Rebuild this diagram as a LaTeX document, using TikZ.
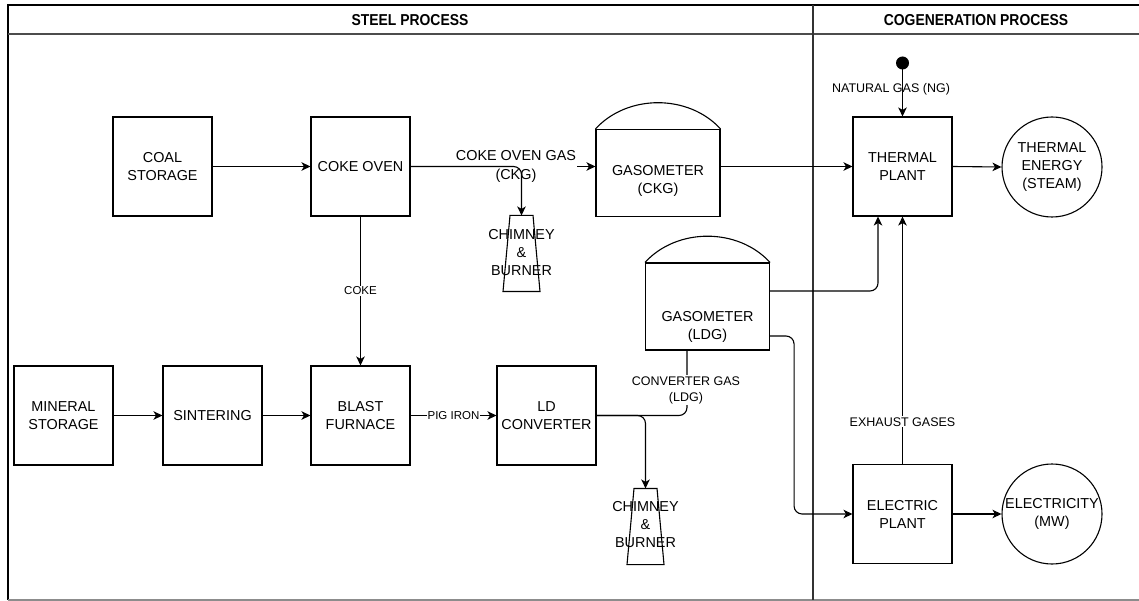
\documentclass[tikz,border=0pt]{standalone}
\usepackage{fontspec}
\setmainfont{Liberation Sans}
\newfontfamily\hdrfont[FakeStretch=0.88]{Liberation Sans}
\usetikzlibrary{arrows.meta}
\tikzset{
  x=1pt,y=-1pt,
  every path/.style={line width=1.1pt},
  box/.style={draw,rectangle,minimum width=99pt,minimum height=99pt,inner sep=0pt,align=center,font=\fontsize{14.4}{18}\selectfont},
  outcirc/.style={draw,circle,minimum size=100pt,inner sep=0pt,align=center,font=\fontsize{14.4}{18}\selectfont},
  gasbox/.style={draw,rectangle,minimum width=124pt,minimum height=87pt,inner sep=0pt},
  chimbox/.style={rectangle,minimum width=37pt,minimum height=75pt,inner sep=0pt},
  btext/.style={align=center,inner sep=0pt,font=\fontsize{14.4}{18}\selectfont},
  elab/.style={align=center,inner sep=1pt,font=\fontsize{12.5}{16}\selectfont},
  slab/.style={align=center,inner sep=1pt,font=\fontsize{11.5}{14}\selectfont},
  arr/.style={-{Stealth[length=9pt,width=8.5pt,inset=2.5pt]}},
  hdr/.style={font=\hdrfont\bfseries\fontsize{15.8}{18}\selectfont},
}
\begin{document}
\begin{tikzpicture}
\useasboundingbox (0,0) rectangle (1139,601);
% frame
\draw[black,line width=1.3pt] (8,600) -- (8,5) -- (1139,5);
\draw[black!70,line width=1.6pt] (8,34) -- (1139,34);
\draw[black!45] (8,600) -- (1139,600);
\draw[black!80] (813,5) -- (813,600);
\node[hdr] (h1) at (410,20) {STEEL PROCESS};
\node[hdr] (h2) at (976,20) {COGENERATION PROCESS};
% boxes
\node[box] (cs) at (162.5,166.5) {COAL\\STORAGE};
\node[box] (co) at (360.5,166.5) {COKE OVEN};
\node[box] (ms) at (63.5,415.5) {MINERAL\\STORAGE};
\node[box] (si) at (212.5,415.5) {SINTERING};
\node[box] (bf) at (360.5,415.5) {BLAST\\FURNACE};
\node[box] (ld) at (546.5,415.5) {LD\\CONVERTER};
\node[box] (tp) at (902.5,166.5) {THERMAL\\PLANT};
\node[box] (ep) at (902.5,514) {ELECTRIC\\PLANT};
\node[outcirc] (te) at (1052,167) {THERMAL\\ENERGY\\(STEAM)};
\node[outcirc] (el) at (1052,514) {ELECTRICITY\\(MW)};
% gasometers
\node[gasbox] (g1) at (658,173) {};
\draw (g1.north west) .. controls +(32,-35) and +(-32,-35) .. (g1.north east);
\node[btext] (g1t) at (658,181) {GASOMETER\\(CKG)};
\node[gasbox] (g2) at (707.5,306.5) {};
\draw (g2.north west) .. controls +(32,-35) and +(-32,-35) .. (g2.north east);
\node[btext] (g2t) at (707.5,326.5) {GASOMETER\\(LDG)};
% chimneys
\node[chimbox] (ch1) at (521.5,253.5) {};
\draw ([xshift=-11.5pt]ch1.north) -- ([xshift=11.5pt]ch1.north) -- ([xshift=18.5pt]ch1.south) -- ([xshift=-18.5pt]ch1.south) -- cycle;
\node[btext] (ch1t) at (521.5,253) {CHIMNEY\\\&\\BURNER};
\node[chimbox] (ch2) at (645.5,526.5) {};
\draw ([xshift=-11.5pt]ch2.north) -- ([xshift=11.5pt]ch2.north) -- ([xshift=18.5pt]ch2.south) -- ([xshift=-18.5pt]ch2.south) -- cycle;
\node[btext] (ch2t) at (645.5,525) {CHIMNEY\\\&\\BURNER};
% natural gas source
\node[circle,fill=black,minimum size=13pt,inner sep=0pt] (ng) at (902.5,63) {};
% connectors
\draw[arr] (cs.east) -- (co.west);
\draw[arr] (co.east) -- node[btext,fill=white,inner sep=1pt,pos=0.57,font=\fontsize{14.4}{19}\selectfont]{COKE OVEN GAS\\(CKG)} (co.east -| g1.west);
\draw[arr,rounded corners=8pt] (co.east) -| (ch1.north);
\draw[arr] (co.south) -- node[slab,fill=white]{COKE} (bf.north);
\draw[arr] (ms.east) -- (si.west);
\draw[arr] (si.east) -- (bf.west);
\draw[arr] (bf.east) -- node[slab,fill=white]{PIG IRON} (ld.west);
\draw[rounded corners=8pt] (ld.east) -| ([xshift=-20.5pt]g2.south);
\node[elab,fill=white] (cgl) at (686,390) {CONVERTER GAS\\(LDG)};
\draw[arr,rounded corners=8pt] (ld.east) -| (ch2.north);
\draw[arr] (tp.west -| g1.east) -- (tp.west);
\draw[arr,rounded corners=8pt] ([yshift=15.5pt]g2.east) -| ([xshift=-24.5pt]tp.south);
\draw[arr,rounded corners=8pt] ([yshift=-29.5pt]g2.east) -- ++(24,0) |- (ep.west);
\draw[arr] (ep.north) -- node[elab,fill=white,pos=0.17]{EXHAUST GASES} (tp.south);
\draw[arr] (ng.center) -- (tp.north);
\node[elab] (ngl) at (891,89) {NATURAL GAS (NG)};
\draw[arr] (tp.east) -- (te.west);
\draw[arr] (ep.east) -- (el.west);
\end{tikzpicture}
\end{document}
